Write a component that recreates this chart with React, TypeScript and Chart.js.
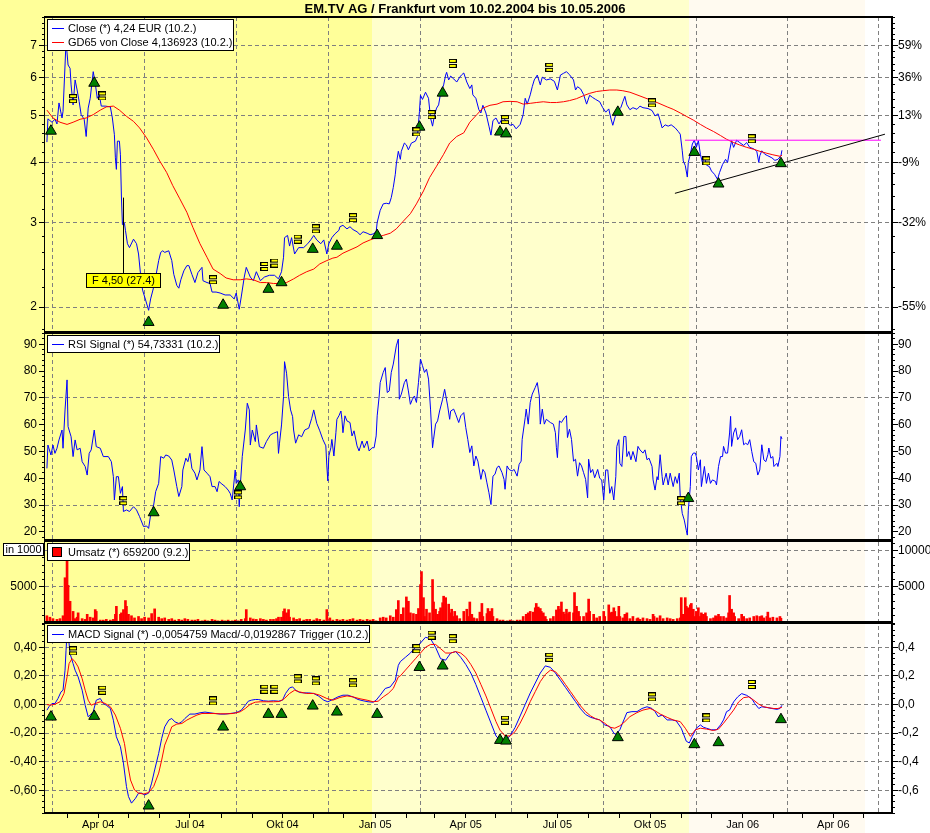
import React, { useEffect, useRef } from 'react';
import { Chart, registerables } from 'chart.js';

Chart.register(...registerables);

const FONT = '"Liberation Sans", Arial, Helvetica, sans-serif';
const TITLE = 'EM.TV AG / Frankfurt vom 10.02.2004 bis 10.05.2006';

// x values are calendar days since 10.02.2004
const START = Date.UTC(2004, 1, 10);
const dayOf = (y: number, m: number, d: number) => Math.round((Date.UTC(y, m - 1, d) - START) / 86400000);

const X_MIN = -1.9;
const X_MAX = 839.3;

const quarterStarts: [number, number][] = [[2004, 4], [2004, 7], [2004, 10], [2005, 1], [2005, 4], [2005, 7], [2005, 10], [2006, 1], [2006, 4]];
const quarterLabels = ['Apr 04', 'Jul 04', 'Okt 04', 'Jan 05', 'Apr 05', 'Jul 05', 'Okt 05', 'Jan 06', 'Apr 06'];

const bandStarts = [dayOf(2004, 12, 29), dayOf(2005, 11, 9), dayOf(2006, 5, 2)];
const bandColors = ['#FFFF99', '#FFFFCC', '#FFFAF0', '#FFFFFF'];

// ---------- price panel ----------
const closeSeries: [number, number][] = [
  [0, 4.41], [1, 4.93], [5, 4.85], [8, 4.92], [10, 4.81], [12, 5.32], [15, 4.95], [16, 5.11], [18, 6.38], [19, 7.15],
  [21, 6.38], [23, 6.28], [24, 5.80], [26, 5.27], [28, 5.94], [30, 5.66], [32, 5.36], [34, 5.03], [37, 4.92], [39, 4.53],
  [41, 5.19], [43, 5.44], [46, 6.18], [48, 5.85], [50, 5.44], [52, 5.53], [54, 5.24], [58, 5.24], [63, 5.22], [65, 4.95],
  [67, 4.57], [68, 4.09], [69, 3.87], [70, 4.43], [72, 4.43], [73, 4.15], [74, 3.39], [75, 2.97], [77, 2.99], [78, 2.89],
  [80, 2.71], [82, 2.66], [86, 2.77], [89, 2.71], [91, 2.58], [93, 2.34], [95, 2.17], [98, 2.07], [101, 1.97], [103, 2.08],
  [106, 2.20], [108, 2.31], [111, 2.50], [113, 2.60], [115, 2.62], [117, 2.60], [121, 2.62], [124, 2.50], [126, 2.34], [129, 2.22],
  [131, 2.19], [133, 2.28], [136, 2.38], [139, 2.44], [141, 2.44], [144, 2.34], [147, 2.25], [150, 2.36], [154, 2.42], [155, 2.27],
  [159, 2.25], [162, 2.24], [164, 2.15], [168, 2.15], [172, 2.14], [177, 2.12], [182, 2.12], [186, 2.08], [188, 2.14], [191, 1.98],
  [193, 2.10], [196, 2.31], [198, 2.42], [202, 2.31], [205, 2.27], [208, 2.37], [212, 2.27], [216, 2.31], [221, 2.33], [226, 2.33],
  [230, 2.29], [233, 2.37], [235, 2.54], [236, 2.79], [239, 2.82], [241, 2.68], [243, 2.79], [246, 2.58], [250, 2.66], [255, 2.66],
  [259, 2.71], [262, 2.76], [265, 2.82], [268, 2.76], [272, 2.71], [275, 2.76], [278, 2.58], [280, 2.71], [283, 2.79], [286, 2.84],
  [290, 2.89], [291, 2.94], [294, 2.96], [298, 2.91], [301, 2.94], [304, 2.90], [308, 2.87], [311, 2.83], [314, 2.87], [318, 2.85],
  [321, 2.83], [324, 2.84], [327, 2.87], [328, 3.00], [331, 3.18], [334, 3.28], [337, 3.29], [340, 3.28], [342, 3.38], [344, 3.55],
  [346, 3.78], [347, 3.97], [349, 4.22], [351, 4.06], [352, 4.22], [355, 4.39], [357, 4.35], [359, 4.25], [362, 4.39], [366, 4.43],
  [368, 4.53], [370, 5.11], [371, 5.52], [373, 5.41], [376, 5.60], [379, 5.44], [381, 4.95], [383, 4.76], [385, 5.03], [387, 5.19],
  [389, 5.27], [391, 5.57], [394, 5.80], [396, 6.08], [397, 6.16], [399, 5.94], [401, 6.05], [404, 5.97], [407, 5.88], [410, 6.02],
  [412, 6.09], [414, 6.14], [417, 5.88], [420, 5.70], [422, 5.80], [423, 5.53], [426, 5.44], [429, 5.15], [431, 5.07], [433, 5.26],
  [436, 5.07], [439, 4.76], [441, 4.56], [443, 4.89], [446, 4.95], [449, 4.81], [453, 4.97], [456, 4.87], [460, 4.78], [463, 4.80],
  [466, 4.70], [470, 4.80], [473, 5.03], [475, 5.44], [477, 5.29], [480, 5.53], [482, 5.75], [484, 5.94], [487, 6.08], [490, 5.80],
  [492, 6.02], [496, 5.94], [500, 5.97], [504, 5.90], [507, 5.66], [510, 6.08], [513, 6.13], [516, 6.18], [519, 6.09], [523, 5.94],
  [525, 5.66], [527, 5.75], [530, 5.69], [533, 5.54], [536, 5.29], [539, 5.52], [542, 5.46], [545, 5.41], [549, 5.35], [552, 5.20],
  [555, 5.09], [558, 5.17], [560, 4.95], [562, 4.78], [564, 4.95], [566, 5.11], [570, 5.20], [572, 5.35], [574, 5.49], [576, 5.27],
  [579, 5.15], [582, 5.20], [586, 5.16], [589, 5.24], [592, 5.20], [597, 5.18], [601, 5.13], [604, 5.00], [607, 5.05], [609, 4.89],
  [611, 4.72], [614, 4.79], [617, 4.76], [620, 4.79], [624, 4.72], [627, 4.64], [629, 4.58], [631, 4.23], [632, 4.03], [634, 3.94],
  [636, 3.73], [637, 4.00], [639, 4.16], [641, 4.37], [643, 4.45], [645, 4.30], [647, 4.44], [649, 4.16], [651, 4.00], [653, 4.11],
  [655, 3.95], [658, 3.92], [660, 3.84], [663, 3.78], [666, 3.69], [668, 3.81], [671, 3.96], [674, 4.06], [676, 4.00], [678, 4.23],
  [680, 4.44], [682, 4.30], [685, 4.45], [688, 4.40], [692, 4.34], [695, 4.40], [698, 4.30], [702, 4.27], [705, 4.22], [707, 4.00],
  [708, 4.13], [710, 4.23], [713, 4.16], [716, 4.13], [720, 4.09], [723, 4.04], [726, 4.06], [729, 4.13], [730, 4.24],
];

const gd65Series: [number, number][] = [
  [0, 5.14], [6, 4.95], [13, 4.85], [20, 4.80], [26, 4.85], [33, 4.92], [39, 4.95], [46, 5.03], [53, 5.14], [59, 5.22],
  [66, 5.24], [72, 5.14], [79, 4.99], [86, 4.87], [92, 4.72], [99, 4.50], [106, 4.25], [112, 4.03], [119, 3.81], [125, 3.58],
  [132, 3.36], [139, 3.15], [145, 2.93], [152, 2.71], [159, 2.54], [165, 2.40], [172, 2.35], [178, 2.30], [185, 2.28], [192, 2.28],
  [198, 2.29], [205, 2.28], [212, 2.25], [218, 2.25], [225, 2.24], [231, 2.24], [238, 2.25], [245, 2.29], [251, 2.33], [258, 2.37],
  [265, 2.40], [271, 2.46], [278, 2.50], [284, 2.53], [288, 2.54], [294, 2.59], [301, 2.63], [308, 2.67], [314, 2.72], [321, 2.76],
  [327, 2.79], [334, 2.82], [341, 2.85], [347, 2.91], [354, 3.02], [361, 3.13], [367, 3.28], [374, 3.49], [380, 3.72], [387, 3.93],
  [394, 4.16], [400, 4.39], [407, 4.53], [414, 4.61], [420, 4.85], [427, 5.03], [433, 5.19], [440, 5.26], [447, 5.29], [453, 5.35],
  [460, 5.36], [467, 5.35], [473, 5.29], [480, 5.31], [486, 5.33], [493, 5.35], [500, 5.33], [506, 5.33], [513, 5.35], [519, 5.38],
  [526, 5.43], [533, 5.51], [539, 5.57], [546, 5.62], [552, 5.64], [559, 5.66], [566, 5.66], [572, 5.64], [579, 5.60], [589, 5.50],
  [597, 5.42], [606, 5.33], [616, 5.22], [622, 5.16], [629, 5.07], [635, 4.99], [642, 4.90], [649, 4.80], [655, 4.72], [662, 4.64],
  [669, 4.55], [675, 4.47], [682, 4.40], [688, 4.35], [695, 4.30], [702, 4.26], [708, 4.22], [715, 4.18], [721, 4.15], [728, 4.12],
  [730, 4.14],
];

const supportLine: [number, number][] = [[623.7, 3.45], [832.3, 4.58]];
const resistanceLine: [number, number][] = [[633.7, 4.45], [828.3, 4.45]];

// signals (shared dates between price and MACD panel)
const buyDays = [4, 47, 101, 175, 220, 233, 264, 288, 328, 370, 393, 450, 456, 567, 643, 667, 729];
const buyPrice = [4.65, 5.85, 1.86, 2.02, 2.18, 2.25, 2.64, 2.68, 2.82, 4.74, 5.58, 4.63, 4.59, 5.09, 4.20, 3.61, 3.98];
const buyMacd = [-0.087, -0.082, -0.709, -0.157, -0.068, -0.068, -0.01, -0.052, -0.068, 0.26, 0.27, -0.25, -0.255, -0.231, -0.28, -0.266, -0.105];
const holdDays = [26, 55, 165, 216, 226, 249, 267, 304, 367, 382, 403, 455, 499, 601, 655, 700];
const holdPrice = [5.43, 5.50, 2.28, 2.43, 2.47, 2.77, 2.91, 3.07, 4.63, 5.03, 6.43, 4.91, 6.31, 5.32, 4.03, 4.48];
const holdMacd = [0.375, 0.10, 0.025, 0.107, 0.107, 0.179, 0.165, 0.151, 0.39, 0.485, 0.46, -0.11, 0.33, 0.053, -0.094, 0.14];

const annotationDay = 76;
const annotationFrom = 3.38;
const annotationBoxAt = 2.36;
const annotationText = 'F 4,50 (27.4)';

// ---------- RSI ----------
const rsiSeries: [number, number][] = [
  [0, 43.7], [1, 52.4], [4, 48.7], [6, 52.4], [8, 49.3], [10, 51.2], [12, 54.3], [15, 58.0], [16, 51.2], [18, 65.5],
  [20, 76.7], [21, 59.3], [24, 55.5], [26, 48.1], [28, 54.3], [30, 50.6], [33, 51.2], [35, 46.2], [38, 44.4], [40, 41.2],
  [42, 49.3], [44, 50.6], [47, 58.0], [49, 51.8], [53, 51.2], [56, 48.1], [61, 48.1], [64, 46.2], [66, 40.6], [67, 31.9],
  [69, 40.6], [71, 40.6], [73, 34.4], [75, 36.9], [76, 27.6], [79, 28.2], [82, 27.6], [86, 29.4], [89, 28.2], [92, 25.7],
  [96, 22.0], [99, 22.2], [101, 21.3], [103, 26.3], [106, 30.0], [108, 35.0], [111, 38.1], [113, 48.1], [116, 47.5], [118, 48.7],
  [121, 48.3], [124, 46.8], [126, 43.1], [129, 36.9], [131, 33.2], [134, 36.9], [135, 43.1], [138, 47.5], [140, 46.2], [142, 49.3],
  [144, 43.7], [147, 41.9], [149, 39.4], [152, 43.1], [154, 51.8], [156, 43.1], [159, 41.9], [162, 40.6], [164, 36.9], [167, 36.9],
  [169, 35.0], [171, 38.8], [173, 38.1], [177, 36.9], [180, 35.6], [182, 34.4], [184, 31.9], [187, 43.1], [188, 38.1], [190, 39.4],
  [191, 29.4], [192, 36.9], [194, 48.1], [197, 58.0], [199, 68.0], [201, 65.5], [202, 52.4], [204, 58.0], [207, 53.7], [208, 59.9],
  [211, 51.8], [215, 51.2], [218, 53.7], [222, 56.2], [225, 56.8], [229, 57.4], [230, 49.3], [231, 53.1], [233, 59.9], [235, 70.5],
  [236, 83.5], [238, 79.2], [240, 70.5], [242, 65.5], [244, 63.0], [245, 58.0], [247, 53.1], [250, 56.2], [253, 55.5], [256, 58.0],
  [260, 58.7], [263, 62.4], [265, 65.5], [268, 60.5], [271, 57.7], [274, 54.5], [277, 52.1], [278, 44.6], [279, 39.0], [280, 48.3],
  [282, 51.4], [283, 54.5], [285, 48.3], [287, 57.0], [288, 62.0], [290, 63.3], [292, 65.1], [293, 62.0], [294, 57.0], [296, 63.3],
  [298, 61.4], [301, 60.8], [303, 55.8], [305, 57.7], [308, 52.1], [310, 50.2], [313, 53.9], [315, 51.4], [318, 53.9], [320, 50.2],
  [323, 51.4], [325, 51.4], [327, 55.8], [328, 63.3], [330, 70.7], [331, 75.7], [334, 79.5], [336, 81.3], [338, 72.0], [340, 72.6],
  [342, 79.5], [344, 82.6], [347, 89.4], [349, 91.9], [350, 69.5], [352, 71.4], [355, 75.7], [357, 77.0], [359, 72.6], [361, 67.6],
  [363, 69.5], [365, 70.7], [367, 68.3], [369, 75.7], [371, 84.5], [373, 82.0], [375, 79.5], [377, 80.7], [379, 77.0], [381, 65.8],
  [383, 51.4], [384, 54.5], [386, 60.2], [388, 61.4], [390, 65.1], [393, 69.5], [395, 73.2], [398, 67.0], [400, 62.0], [401, 65.1],
  [404, 65.8], [406, 63.9], [409, 60.8], [411, 63.3], [414, 64.5], [416, 58.9], [418, 54.5], [420, 49.6], [422, 52.1], [424, 44.6],
  [426, 48.3], [428, 46.4], [431, 39.6], [433, 43.3], [435, 42.1], [437, 38.3], [439, 34.6], [441, 30.2], [443, 40.8], [445, 41.5],
  [447, 44.0], [449, 44.6], [452, 42.1], [454, 39.6], [455, 35.9], [457, 44.6], [459, 43.3], [462, 42.7], [464, 43.3], [467, 40.8],
  [469, 45.2], [471, 46.4], [472, 54.5], [475, 62.6], [476, 65.8], [478, 60.2], [480, 68.3], [482, 71.4], [485, 73.9], [487, 75.7],
  [489, 70.7], [490, 60.2], [492, 65.8], [494, 60.2], [496, 62.0], [500, 60.8], [503, 60.2], [505, 57.0], [506, 51.4], [507, 47.7],
  [509, 61.4], [511, 60.8], [514, 62.6], [516, 63.3], [517, 55.2], [519, 58.3], [521, 54.5], [523, 46.4], [525, 47.1], [527, 40.8],
  [529, 45.8], [531, 44.6], [533, 42.1], [535, 39.6], [537, 32.7], [538, 47.1], [540, 42.1], [542, 43.3], [544, 40.2], [547, 43.3],
  [549, 40.0], [551, 39.4], [553, 31.9], [555, 43.1], [557, 43.1], [559, 34.4], [561, 36.9], [563, 31.9], [565, 40.6], [566, 51.9],
  [568, 54.4], [569, 45.6], [571, 44.4], [573, 55.6], [575, 55.6], [576, 48.1], [578, 50.0], [580, 46.9], [582, 50.0], [585, 46.2],
  [587, 51.9], [589, 50.6], [592, 49.4], [594, 50.6], [596, 46.9], [598, 47.5], [601, 44.4], [602, 39.4], [604, 35.6], [606, 40.6],
  [607, 39.4], [609, 48.8], [611, 40.6], [612, 37.5], [615, 41.9], [617, 37.5], [619, 41.9], [622, 36.9], [624, 40.6], [626, 38.1],
  [628, 41.9], [629, 33.1], [631, 26.9], [633, 24.4], [635, 20.6], [636, 18.8], [637, 28.1], [639, 36.9], [640, 48.1], [642, 49.4],
  [644, 49.4], [645, 48.1], [647, 43.1], [649, 46.9], [650, 36.9], [653, 44.4], [655, 38.1], [657, 41.9], [659, 38.1], [661, 39.4],
  [664, 38.8], [665, 37.5], [667, 44.4], [669, 48.1], [671, 48.1], [672, 51.9], [674, 49.4], [676, 49.4], [678, 56.9], [679, 63.1],
  [680, 51.9], [682, 56.9], [684, 58.8], [686, 54.4], [688, 55.6], [690, 58.1], [692, 52.5], [694, 53.1], [696, 52.5], [698, 54.4],
  [700, 50.0], [702, 46.2], [704, 45.6], [706, 41.2], [708, 43.1], [710, 52.5], [712, 46.9], [714, 46.2], [716, 48.8], [717, 51.3],
  [719, 47.5], [721, 48.1], [722, 44.4], [725, 45.6], [726, 44.4], [728, 48.1], [729, 55.6], [730, 54.7],
];
const rsiBuyDays = [106, 192, 637];
const rsiBuyVals = [27.2, 36.9, 32.5];
const rsiHoldDays = [76, 190, 630];
const rsiHoldVals = [31.6, 33.8, 31.6];

// ---------- volume (in 1000) ----------
const volumeSeries: [number, number][] = [
  [0, 1000], [3, 800], [6, 600], [10, 500], [13, 600], [16, 1000], [18, 6250], [20, 8800], [21, 5200], [23, 3000],
  [26, 1600], [28, 600], [30, 800], [31, 1400], [35, 600], [38, 500], [40, 1200], [43, 800], [46, 700], [48, 1850],
  [49, 1600], [53, 400], [56, 400], [59, 500], [63, 400], [66, 500], [68, 1200], [69, 2300], [73, 1200], [74, 1400],
  [76, 1850], [78, 3100], [79, 2300], [81, 1200], [84, 1000], [87, 700], [91, 900], [94, 600], [97, 800], [101, 700],
  [104, 1300], [107, 1950], [111, 800], [114, 600], [117, 700], [121, 500], [124, 600], [127, 400], [131, 500], [134, 400],
  [137, 600], [140, 500], [144, 400], [147, 400], [150, 500], [154, 300], [157, 400], [160, 300], [164, 500], [167, 400],
  [170, 300], [174, 400], [177, 300], [180, 400], [184, 300], [187, 400], [190, 300], [193, 500], [197, 600], [198, 1850],
  [202, 700], [205, 550], [208, 500], [212, 600], [215, 500], [218, 400], [222, 500], [225, 500], [228, 600], [230, 800],
  [233, 800], [235, 1600], [236, 1950], [238, 1400], [240, 1850], [241, 800], [245, 700], [248, 500], [251, 600], [255, 400],
  [258, 500], [261, 500], [265, 400], [268, 600], [271, 500], [275, 400], [278, 1850], [281, 700], [284, 400], [288, 500],
  [291, 400], [294, 500], [298, 400], [301, 500], [304, 600], [308, 400], [311, 500], [314, 400], [318, 500], [321, 400],
  [324, 500], [327, 300], [331, 700], [334, 800], [337, 700], [341, 1000], [344, 800], [347, 1850], [349, 3100], [352, 1200],
  [354, 2100], [357, 3600], [359, 3000], [361, 1400], [364, 1300], [367, 1200], [369, 2000], [371, 5300], [372, 7100], [374, 3500],
  [375, 900], [377, 1900], [380, 1400], [383, 6000], [384, 2900], [386, 1900], [388, 1200], [390, 1600], [391, 2100], [393, 2800],
  [394, 3700], [396, 3500], [399, 2600], [400, 1400], [402, 1900], [404, 900], [405, 1600], [407, 1000], [410, 600], [414, 1600],
  [417, 1900], [419, 900], [420, 2900], [422, 1200], [424, 700], [427, 600], [430, 1500], [432, 2700], [433, 900], [437, 1300],
  [438, 2000], [440, 1600], [442, 2000], [443, 900], [447, 600], [450, 400], [453, 400], [457, 300], [460, 400], [463, 300],
  [467, 400], [470, 400], [473, 900], [476, 1200], [478, 1400], [480, 1600], [483, 1500], [485, 2100], [486, 2700], [488, 2200],
  [490, 2000], [491, 1600], [493, 1400], [495, 900], [496, 500], [500, 600], [503, 900], [506, 1800], [508, 2300], [510, 1900],
  [511, 2900], [513, 1500], [514, 1200], [516, 1900], [518, 1300], [519, 1500], [523, 1400], [524, 4200], [526, 2300], [528, 1600],
  [529, 900], [533, 900], [536, 1400], [538, 3300], [539, 1600], [543, 1200], [546, 700], [549, 900], [553, 1600], [554, 900],
  [558, 2500], [559, 1400], [561, 1500], [563, 2100], [564, 1600], [566, 900], [568, 2300], [569, 900], [572, 700], [574, 1200],
  [576, 1400], [579, 600], [582, 900], [586, 600], [587, 700], [589, 500], [592, 700], [596, 600], [599, 500], [602, 1200],
  [603, 900], [606, 700], [609, 1000], [612, 600], [616, 700], [619, 600], [622, 500], [626, 600], [629, 700], [630, 3500],
  [632, 1200], [634, 3500], [635, 2300], [637, 2100], [639, 2500], [640, 2700], [642, 1900], [644, 900], [645, 1600], [647, 2100],
  [649, 900], [650, 1400], [652, 1200], [654, 1400], [655, 900], [659, 600], [662, 700], [664, 1000], [665, 900], [667, 1200],
  [669, 900], [672, 900], [675, 700], [677, 1400], [678, 3800], [680, 1900], [682, 1400], [683, 900], [687, 600], [690, 1200],
  [692, 900], [695, 600], [698, 700], [702, 900], [705, 1000], [708, 900], [710, 1000], [712, 700], [715, 900], [716, 1500],
  [718, 700], [721, 800], [725, 700], [728, 900], [729, 659.2],
];

// ---------- MACD ----------
const macdSeries: [number, number][] = [
  [0, -0.04], [2, -0.016], [5, 0.007], [8, 0.007], [11, 0.042], [14, 0.088], [16, 0.10], [18, 0.24], [19, 0.38], [20, 0.50],
  [21, 0.50], [23, 0.356], [26, 0.286], [28, 0.24], [31, 0.193], [35, 0.10], [38, -0.005], [41, -0.086], [43, -0.074], [46, -0.05],
  [49, 0.03], [53, 0.042], [56, 0.007], [59, -0.005], [63, -0.028], [66, -0.11], [69, -0.226], [73, -0.295], [76, -0.41], [79, -0.574],
  [81, -0.644], [84, -0.69], [88, -0.656], [91, -0.62], [94, -0.62], [97, -0.633], [101, -0.62], [104, -0.55], [107, -0.458], [111, -0.342],
  [114, -0.237], [117, -0.156], [121, -0.109], [124, -0.098], [127, -0.121], [131, -0.133], [134, -0.121], [137, -0.098], [142, -0.067], [147, -0.067],
  [152, -0.058], [157, -0.053], [162, -0.058], [167, -0.063], [172, -0.067], [177, -0.067], [182, -0.063], [187, -0.058], [190, -0.051], [193, -0.04],
  [197, -0.005], [200, 0.023], [203, 0.03], [207, 0.035], [210, 0.035], [215, 0.026], [220, 0.023], [225, 0.026], [230, 0.023], [234, 0.03],
  [237, 0.077], [241, 0.116], [244, 0.123], [247, 0.10], [251, 0.084], [255, 0.081], [260, 0.081], [265, 0.077], [270, 0.058], [275, 0.03],
  [279, 0.019], [284, 0.035], [289, 0.053], [294, 0.065], [299, 0.065], [304, 0.053], [309, 0.035], [314, 0.026], [319, 0.019], [324, 0.016],
  [327, 0.03], [331, 0.065], [336, 0.112], [341, 0.123], [346, 0.17], [349, 0.274], [351, 0.30], [356, 0.33], [361, 0.36], [366, 0.40],
  [371, 0.43], [376, 0.47], [381, 0.46], [386, 0.40], [391, 0.32], [396, 0.31], [401, 0.36], [406, 0.37], [411, 0.33], [416, 0.28],
  [421, 0.22], [426, 0.14], [431, 0.05], [436, -0.04], [441, -0.13], [446, -0.22], [450, -0.25], [455, -0.25], [460, -0.22], [465, -0.16],
  [470, -0.08], [475, 0.0], [480, 0.08], [485, 0.15], [490, 0.22], [495, 0.27], [500, 0.26], [505, 0.22], [510, 0.17], [515, 0.12],
  [520, 0.07], [525, 0.02], [530, -0.03], [535, -0.07], [540, -0.09], [545, -0.10], [549, -0.108], [554, -0.143], [559, -0.154], [563, -0.2],
  [565, -0.21], [569, -0.177], [573, -0.108], [576, -0.057], [581, -0.05], [586, -0.05], [591, -0.028], [596, -0.016], [601, -0.028], [604, -0.05],
  [607, -0.085], [611, -0.074], [616, -0.108], [621, -0.108], [625, -0.115], [630, -0.166], [635, -0.257], [638, -0.269], [641, -0.223], [645, -0.166],
  [649, -0.143], [652, -0.159], [655, -0.166], [660, -0.177], [665, -0.177], [669, -0.143], [672, -0.108], [675, -0.05], [678, -0.039], [682, 0.018],
  [686, 0.053], [690, 0.076], [695, 0.064], [700, 0.041], [703, 0.007], [707, -0.028], [710, -0.016], [715, -0.021], [720, -0.028], [725, -0.034],
  [728, -0.028], [730, -0.0055],
];

const triggerSeries: [number, number][] = [
  [0, 0], [3, -0.005], [8, 0.002], [13, 0.019], [17, 0.077], [20, 0.193], [22, 0.286], [25, 0.321], [28, 0.298], [31, 0.263],
  [35, 0.181], [38, 0.10], [41, 0.03], [44, -0.005], [48, 0.007], [53, 0.019], [58, 0.007], [63, -0.016], [68, -0.074], [73, -0.167],
  [77, -0.272], [80, -0.41], [83, -0.528], [87, -0.598], [91, -0.62], [96, -0.626], [101, -0.616], [106, -0.574], [111, -0.48], [114, -0.388],
  [117, -0.284], [121, -0.214], [124, -0.156], [129, -0.137], [134, -0.133], [139, -0.109], [144, -0.091], [149, -0.074], [154, -0.063], [159, -0.063],
  [165, -0.063], [172, -0.065], [179, -0.065], [185, -0.063], [192, -0.051], [197, -0.028], [202, 0.002], [207, 0.016], [212, 0.019], [218, 0.019],
  [225, 0.019], [231, 0.021], [236, 0.042], [241, 0.077], [246, 0.10], [251, 0.088], [258, 0.077], [265, 0.077], [271, 0.065], [278, 0.042],
  [284, 0.03], [291, 0.049], [298, 0.06], [304, 0.053], [311, 0.04], [318, 0.03], [324, 0.019], [329, 0.023], [334, 0.053], [339, 0.077],
  [344, 0.112], [349, 0.193], [351, 0.20], [356, 0.24], [361, 0.28], [366, 0.32], [371, 0.36], [376, 0.40], [381, 0.42], [386, 0.42],
  [391, 0.39], [396, 0.36], [401, 0.36], [406, 0.37], [411, 0.36], [416, 0.33], [421, 0.28], [426, 0.22], [431, 0.14], [436, 0.06],
  [441, -0.03], [446, -0.12], [450, -0.18], [455, -0.22], [460, -0.22], [465, -0.19], [470, -0.13], [475, -0.06], [480, 0.02], [485, 0.09],
  [490, 0.16], [495, 0.21], [500, 0.24], [505, 0.23], [510, 0.19], [515, 0.14], [520, 0.09], [525, 0.04], [530, -0.01], [535, -0.05],
  [540, -0.08], [545, -0.10], [549, -0.108], [554, -0.131], [559, -0.159], [564, -0.166], [569, -0.149], [574, -0.12], [579, -0.085], [586, -0.057],
  [592, -0.039], [599, -0.028], [604, -0.044], [609, -0.067], [616, -0.09], [622, -0.108], [629, -0.12], [634, -0.166], [639, -0.223], [644, -0.177],
  [649, -0.166], [655, -0.172], [662, -0.182], [667, -0.172], [672, -0.131], [677, -0.085], [682, -0.039], [687, 0.018], [692, 0.048], [697, 0.053],
  [702, 0.03], [707, 0.002], [712, -0.016], [717, -0.023], [722, -0.028], [726, -0.028], [730, -0.019],
];

// ---------- axes ----------
const priceTicks = [2, 3, 4, 5, 6, 7];
const rsiTicks = [20, 30, 40, 50, 60, 70, 80, 90];
const rsiGridAt = [30, 70];
const volTicks = [5000, 10000];
const macdTicks = [-0.6, -0.4, -0.2, 0, 0.2, 0.4];

const legendPrice = ['Close (*) 4,24 EUR (10.2.)', 'GD65 von Close 4,136923 (10.2.)'];
const legendRsi = 'RSI Signal (*) 54,73331 (10.2.)';
const legendVol = 'Umsatz (*) 659200 (9.2.)';
const legendMacd = 'MACD Signal (*) -0,0054759 Macd/-0,0192867 Trigger (10.2.)';
const volUnitLabel = 'in 1000';

const GRID = '#808080';
const BLUE = '#0000FF';
const RED = '#FF0000';

const pts = (s: [number, number][]) => s.map(([x, y]) => ({ x, y }));
const zipPts = (xs: number[], ys: number[]) => xs.map((x, i) => ({ x, y: ys[i] }));
const range = (a: number, b: number, step: number) => {
  const out: number[] = [];
  for (let v = a; v <= b + step / 1000; v += step) out.push(Math.round(v * 1000) / 1000);
  return out;
};

function makeEqualsMarker() {
  const c = document.createElement('canvas');
  c.width = 8; c.height = 9;
  const g = c.getContext('2d')!;
  g.fillStyle = '#000';
  g.fillRect(0, 0, 8, 4);
  g.fillRect(0, 5, 8, 4);
  g.fillStyle = '#FFFF00';
  g.fillRect(1, 1, 6, 2);
  g.fillRect(1, 6, 6, 2);
  return c;
}

export default function App() {
  const ref = useRef<HTMLCanvasElement>(null);

  useEffect(() => {
    const canvas = ref.current;
    if (!canvas) return;
    const eq = makeEqualsMarker();
    const pctBase = closeSeries[0][1];

    const quarterDays = quarterStarts.map(([y, m]) => dayOf(y, m, 1));
    const monthDays: number[] = [];
    for (let y = 2004; y <= 2006; y++) for (let m = 1; m <= 12; m++) {
      const d = dayOf(y, m, 1);
      if (d > X_MIN && d < X_MAX) monthDays.push(d);
    }

    const PANEL = { price: 316, rsi: 208, vol: 82, macd: 190 };

    const tickSpecs = [
      { id: 'yP', major: priceTicks, minor: range(1.8, 8.0, 0.2) },
      { id: 'yP2', major: priceTicks, minor: range(1.8, 8.0, 0.2) },
      { id: 'yR', major: rsiTicks, minor: range(18, 94, 2) },
      { id: 'yR2', major: rsiTicks, minor: range(18, 94, 2) },
      { id: 'yV', major: volTicks, minor: range(0, 11000, 1000) },
      { id: 'yV2', major: volTicks, minor: range(0, 11000, 1000) },
      { id: 'yM', major: macdTicks, minor: range(-0.76, 0.56, 0.04) },
      { id: 'yM2', major: macdTicks, minor: range(-0.76, 0.56, 0.04) },
    ];

    const tickFont = { family: FONT, size: 12 };
    const yAxis = (o: any) => {
      const left = o.position === 'left';
      return {
        bounds: 'data',
        offset: false,
        stack: left ? 'L' : 'R',
        border: { display: false, dash: [4, 3] },
        grid: { drawTicks: false, lineWidth: 1, color: GRID, display: left, drawOnChartArea: left },
        afterFit: (s: any) => { s.width = left ? 45 : 38; },
        ...o,
        ticks: { autoSkip: false, padding: left ? 8 : 6, color: '#000', font: tickFont, ...(o.ticks || {}) },
      };
    };
    const setTicks = (vals: number[]) => (s: any) => { s.ticks = vals.map((v) => ({ value: v })); };
    const comma = (v: number, d: number) => v.toFixed(d).replace('.', ',');

    const scales: any = {
      x: {
        type: 'linear', position: 'bottom', min: X_MIN, max: X_MAX, bounds: 'data', offset: false,
        afterBuildTicks: setTicks(quarterDays),
        afterFit: (s: any) => { s.height = 20; },
        grid: { drawTicks: false, color: GRID, lineWidth: 1 },
        border: { display: false, dash: [4, 3] },
        ticks: {
          autoSkip: false, maxRotation: 0, minRotation: 0, padding: 5, color: '#000', font: { family: FONT, size: 11 },
          callback: (_v: any, i: number) => quarterLabels[i],
        },
      },
      yP: yAxis({ position: 'left', type: 'logarithmic', min: 1.767, max: 8.03, weight: 4, stackWeight: PANEL.price,
        afterBuildTicks: setTicks(priceTicks), ticks: { callback: (v: any) => String(v) } }),
      yR: yAxis({ position: 'left', type: 'linear', min: 16.6, max: 94.2, weight: 3, stackWeight: PANEL.rsi,
        afterBuildTicks: setTicks(rsiTicks), ticks: { callback: (v: any) => String(v) },
        grid: { drawTicks: false, lineWidth: 1, color: (c: any) => (c.tick && rsiGridAt.includes(c.tick.value) ? GRID : 'rgba(0,0,0,0)') } }),
      yV: yAxis({ position: 'left', type: 'linear', min: 0, max: 11325, weight: 2, stackWeight: PANEL.vol,
        afterBuildTicks: setTicks(volTicks), ticks: { callback: (v: any) => (v === 10000 ? '' : String(v)) } }),
      yM: yAxis({ position: 'left', type: 'linear', min: -0.759, max: 0.57, weight: 1, stackWeight: PANEL.macd,
        afterBuildTicks: setTicks(macdTicks), ticks: { callback: (v: any) => comma(v, 2) } }),
      yP2: yAxis({ position: 'right', type: 'logarithmic', min: 1.767, max: 8.03, weight: 1, stackWeight: PANEL.price,
        afterBuildTicks: setTicks(priceTicks), ticks: { callback: (v: any) => Math.round((v / pctBase - 1) * 100) + '%' } }),
      yR2: yAxis({ position: 'right', type: 'linear', min: 16.6, max: 94.2, weight: 2, stackWeight: PANEL.rsi,
        afterBuildTicks: setTicks(rsiTicks), ticks: { callback: (v: any) => String(v) } }),
      yV2: yAxis({ position: 'right', type: 'linear', min: 0, max: 11325, weight: 3, stackWeight: PANEL.vol,
        afterBuildTicks: setTicks(volTicks), ticks: { callback: (v: any) => String(v) } }),
      yM2: yAxis({ position: 'right', type: 'linear', min: -0.759, max: 0.57, weight: 4, stackWeight: PANEL.macd,
        afterBuildTicks: setTicks(macdTicks), ticks: { callback: (v: any) => comma(v, 1) } }),
    };

    const line = (data: any[], axis: string, color: string, extra: any = {}) => ({
      type: 'line', data, yAxisID: axis, xAxisID: 'x', borderColor: color, borderWidth: 1,
      pointRadius: 0, tension: 0, fill: false, ...extra,
    });
    const markers = (data: any[], axis: string, kind: 'buy' | 'hold') => ({
      type: 'line', data, yAxisID: axis, xAxisID: 'x', showLine: false,
      borderColor: '#000', backgroundColor: '#008000',
      pointStyle: kind === 'buy' ? 'triangle' : eq,
      pointRadius: kind === 'buy' ? 6.3 : 5,
      pointBackgroundColor: '#008000', pointBorderColor: '#000', pointBorderWidth: 1,
    });

    const datasets: any[] = [
      markers(zipPts(holdDays, holdPrice), 'yP', 'hold'),
      markers(zipPts(buyDays, buyPrice), 'yP', 'buy'),
      markers(zipPts(holdDays, holdMacd), 'yM', 'hold'),
      markers(zipPts(buyDays, buyMacd), 'yM', 'buy'),
      markers(zipPts(rsiHoldDays, rsiHoldVals), 'yR', 'hold'),
      markers(zipPts(rsiBuyDays, rsiBuyVals), 'yR', 'buy'),
      line(pts(supportLine), 'yP', '#000000'),
      line(pts(resistanceLine), 'yP', '#FF00FF'),
      line(pts(gd65Series), 'yP', RED),
      line(pts(closeSeries), 'yP', BLUE),
      line(pts(rsiSeries), 'yR', BLUE),
      line(pts(triggerSeries), 'yM', RED),
      line(pts(macdSeries), 'yM', BLUE),
      { type: 'bar', data: pts(volumeSeries), yAxisID: 'yV', xAxisID: 'x', backgroundColor: RED, borderWidth: 0, barThickness: 2, grouped: false },
    ];

    const drawLegend = (ctx: CanvasRenderingContext2D, x: number, y: number, items: { text: string; color: string; kind: string }[]) => {
      ctx.font = `11px ${FONT}`;
      const w = Math.max(...items.map((it) => ctx.measureText(it.text).width));
      const h = items.length * 14 + 4;
      const bw = Math.round(21 + w + 2);
      ctx.fillStyle = '#FFFFFF';
      ctx.fillRect(x, y, bw, h);
      ctx.strokeStyle = '#000';
      ctx.lineWidth = 1;
      ctx.strokeRect(x + 0.5, y + 0.5, bw - 1, h - 1);
      items.forEach((it, i) => {
        const cy = y + 9 + i * 14;
        if (it.kind === 'line') {
          ctx.fillStyle = it.color;
          ctx.fillRect(x + 5, cy, 12, 1);
        } else {
          ctx.fillStyle = it.color;
          ctx.fillRect(x + 5, cy - 5, 10, 10);
          ctx.strokeStyle = '#000';
          ctx.strokeRect(x + 5.5, cy - 4.5, 9, 9);
        }
        ctx.fillStyle = '#000';
        ctx.textAlign = 'left';
        ctx.textBaseline = 'middle';
        ctx.fillText(it.text, x + 21, cy + 0.5);
      });
    };

    const decor = {
      id: 'decor',
      beforeDraw(chart: any) {
        const { ctx, width, height } = chart;
        const xs = chart.scales.x;
        const edges = [0, ...bandStarts.map((d) => Math.round(xs.getPixelForValue(d))), width];
        ctx.save();
        bandColors.forEach((c, i) => {
          ctx.fillStyle = c;
          ctx.fillRect(edges[i], 0, edges[i + 1] - edges[i], height);
        });
        ctx.restore();
      },
      afterDraw(chart: any) {
        const { ctx, chartArea: ca, width } = chart;
        const L = ca.left, R = ca.right, T = ca.top, B = ca.bottom;
        const xs = chart.scales.x;
        ctx.save();
        ctx.fillStyle = '#000';
        // y tick marks (major + minor)
        tickSpecs.forEach((spec) => {
          const s = chart.scales[spec.id];
          const left = s.position === 'left';
          const mark = (v: number, len: number) => {
            const p = s.getPixelForValue(v);
            if (p < s.top - 0.5 || p > s.bottom + 0.5) return;
            const y = Math.round(p - 0.5);
            if (left) ctx.fillRect(L - len, y, len, 1);
            else ctx.fillRect(R, y, len, 1);
          };
          spec.minor.forEach((v) => { if (!spec.major.includes(v)) mark(v, 3); });
          spec.major.forEach((v) => mark(v, 6));
        });
        // month tick marks at the bottom
        monthDays.forEach((d) => {
          const x = Math.round(xs.getPixelForValue(d) - 0.5);
          ctx.fillRect(x, B, 1, 5);
        });
        // frame
        ctx.fillRect(L - 1, T, 1, B - T);
        ctx.fillRect(R - 1, T - 1, 2, B - T + 2);
        ctx.fillRect(L - 1, T - 1, R - L + 1, 2);
        ctx.fillRect(L - 1, B - 1, R - L + 1, 2);
        ['yP', 'yR', 'yV'].forEach((id) => {
          const b = Math.round(chart.scales[id].bottom);
          ctx.fillRect(L - 1, b - 2, R - L + 1, 3);
        });

        // annotation
        const yp = chart.scales.yP;
        const ax = Math.round(xs.getPixelForValue(annotationDay)) + 0.5;
        const yTop = yp.getPixelForValue(annotationFrom);
        const yBox = Math.round(yp.getPixelForValue(annotationBoxAt));
        ctx.strokeStyle = '#000';
        ctx.lineWidth = 1;
        ctx.beginPath();
        ctx.moveTo(ax, yTop);
        ctx.lineTo(ax, yBox);
        ctx.stroke();
        ctx.font = `11px ${FONT}`;
        const aw = Math.round(ctx.measureText(annotationText).width + 12);
        const bx = Math.round(ax - aw / 2);
        ctx.fillStyle = '#FFFF00';
        ctx.fillRect(bx, yBox, aw, 15);
        ctx.strokeRect(bx + 0.5, yBox + 0.5, aw - 1, 14);
        ctx.fillStyle = '#000';
        ctx.textAlign = 'center';
        ctx.textBaseline = 'middle';
        ctx.fillText(annotationText, bx + aw / 2, yBox + 8);

        // legends
        const pTop = chart.scales.yP.top, rTop = chart.scales.yR.top, vTop = chart.scales.yV.top, mTop = chart.scales.yM.top;
        drawLegend(ctx, L + 2, Math.round(pTop) + 2, [
          { text: legendPrice[0], color: BLUE, kind: 'line' },
          { text: legendPrice[1], color: RED, kind: 'line' },
        ]);
        drawLegend(ctx, L + 2, Math.round(rTop) + 2, [{ text: legendRsi, color: BLUE, kind: 'line' }]);
        drawLegend(ctx, L + 2, Math.round(vTop) + 2, [{ text: legendVol, color: RED, kind: 'box' }]);
        drawLegend(ctx, L + 2, Math.round(mTop) + 2, [{ text: legendMacd, color: BLUE, kind: 'line' }]);

        // "in 1000" unit box
        const uy = Math.round(vTop) + 2;
        ctx.fillStyle = '#FFFFFF';
        ctx.fillRect(3, uy, L - 4, 13);
        ctx.strokeStyle = '#000';
        ctx.strokeRect(3.5, uy + 0.5, L - 5, 12);
        ctx.fillStyle = '#000';
        ctx.font = `11px ${FONT}`;
        ctx.textAlign = 'center';
        ctx.textBaseline = 'middle';
        ctx.fillText(volUnitLabel, 3 + (L - 4) / 2, uy + 7);

        // title
        ctx.font = `bold 13px ${FONT}`;
        ctx.textAlign = 'center';
        ctx.textBaseline = 'middle';
        ctx.fillStyle = '#000';
        ctx.fillText(TITLE, width / 2, 9);
        ctx.restore();
      },
    };

    const chart = new Chart(canvas, {
      type: 'line',
      data: { datasets },
      options: {
        responsive: false,
        animation: false,
        events: [],
        devicePixelRatio: 1,
        layout: { padding: { top: 17, left: 0, right: 0, bottom: 0 } },
        plugins: { legend: { display: false }, tooltip: { enabled: false }, title: { display: false } },
        scales,
      } as any,
      plugins: [decor],
    } as any);

    return () => chart.destroy();
  }, []);

  return (
    <div style={{ position: 'absolute', left: 0, top: 0, width: 930, height: 833 }}>
      <canvas ref={ref} width={930} height={833} style={{ display: 'block', width: 930, height: 833 }} />
    </div>
  );
}
